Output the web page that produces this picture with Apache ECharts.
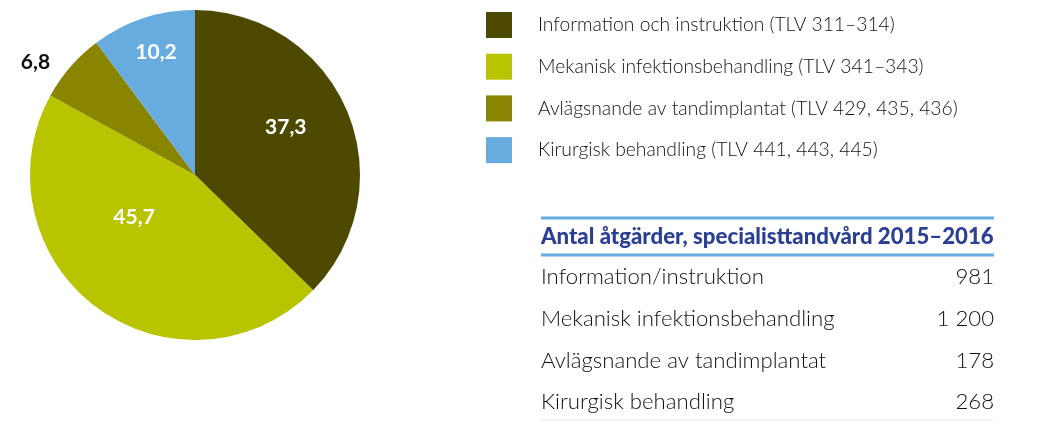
<!DOCTYPE html>
<html>
<head>
<meta charset="UTF-8">
<title>Antal åtgärder</title>
<script type="text/javascript" src="https://cdn.jsdelivr.net/npm/echarts@6.0.0/dist/echarts.min.js"></script>
<style>
html, body { margin: 0; padding: 0; background: #fff; }
#chart { width: 1041px; height: 421px; }
</style>
</head>
<body>
<div id="chart"></div>
<script type="text/javascript">
// data
var legendNames = [
	"Information och instruktion (TLV 311–314)",
	"Mekanisk infektionsbehandling (TLV 341–343)",
	"Avlägsnande av tandimplantat (TLV 429, 435, 436)",
	"Kirurgisk behandling (TLV 441, 443, 445)"
];
var shares = [37.3, 45.7, 6.8, 10.2];
var tableTitle = "Antal åtgärder, specialisttandvård 2015–2016";
var tableRows = ["Information/instruktion", "Mekanisk infektionsbehandling", "Avlägsnande av tandimplantat", "Kirurgisk behandling"];
var tableCounts = ["981", "1 200", "178", "268"];

var colors = ["#4d4900", "#b8c400", "#8a8500", "#67abdf"];
// label tweaks per slice (offset from inside point)
var labelOffsets = [[12, -15], [-10, -26], [-95, -57], [-12, -42]];
var labelColors = ["#fff", "#fff", "#111", "#fff"];

var FONT = "Lato, 'Open Sans', sans-serif";

document.addEventListener("DOMContentLoaded", function () {
	var chart = echarts.init(document.getElementById("chart"), null, { renderer: "canvas" });

	var pieData = shares.map(function (v, i) {
		return {
			name: legendNames[i],
			value: v,
			itemStyle: { color: colors[i] },
			label: { offset: labelOffsets[i], color: labelColors[i] }
		};
	});

	// table drawn with graphic elements
	var tx0 = 541, tx1 = 994;
	var graphics = [
		{ type: "line", shape: { x1: tx0, y1: 218, x2: tx1, y2: 218 }, style: { stroke: "#67abdf", lineWidth: 3 } },
		{ type: "line", shape: { x1: tx0, y1: 255, x2: tx1, y2: 255 }, style: { stroke: "#67abdf", lineWidth: 3 } },
		{ type: "line", shape: { x1: tx0, y1: 420, x2: tx1, y2: 420 }, style: { stroke: "#e8e8e8", lineWidth: 1 } },
		{ type: "text", x: tx0, y: 237, style: { text: tableTitle, font: "900 22.2px " + FONT, fill: "#2b3f93", textVerticalAlign: "middle" } }
	];
	tableRows.forEach(function (r, i) {
		var y = 277 + i * 41.7;
		graphics.push({ type: "text", x: tx0, y: y, style: { text: r, font: "300 22.2px " + FONT, fill: "#111", textVerticalAlign: "middle" } });
		graphics.push({ type: "text", x: tx1, y: y, style: { text: tableCounts[i], font: "300 22.2px " + FONT, fill: "#111", textAlign: "right", textVerticalAlign: "middle" } });
	});

	var option = {
		animation: false,
		legend: {
			orient: "vertical",
			left: 481,
			top: 7,
			itemWidth: 26,
			itemHeight: 26,
			itemGap: 15.7,
			icon: "rect",
			selectedMode: false,
			data: legendNames,
			textStyle: { fontFamily: FONT, fontSize: 19.3, fontWeight: 300, color: "#111", padding: [0, 0, 0, 21] }
		},
		series: [{
			type: "pie",
			center: [195, 175],
			radius: [0, 165],
			startAngle: 90,
			clockwise: true,
			silent: true,
			itemStyle: { borderWidth: 0 },
			label: {
				show: true,
				position: "inside",
				fontFamily: FONT,
				fontWeight: "bold",
				fontSize: 21,
				formatter: function (p) { return String(p.value).replace(".", ","); }
			},
			labelLine: { show: false },
			data: pieData
		}],
		graphic: graphics
	};
	chart.setOption(option);
});
</script>
</body>
</html>
